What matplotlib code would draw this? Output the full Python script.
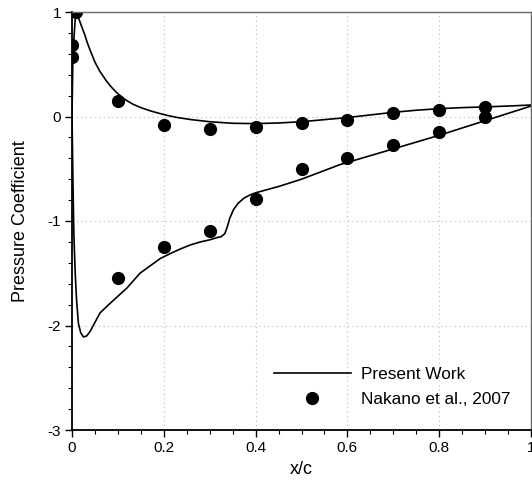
import matplotlib.pyplot as plt
from matplotlib.ticker import MultipleLocator

# present work, upper and lower surface
up_x = [0, 0.002, 0.008, 0.012, 0.017, 0.022, 0.028, 0.033, 0.039, 0.05, 0.061, 0.075, 0.086,
        0.097, 0.11, 0.122, 0.134, 0.15, 0.17, 0.19, 0.21, 0.23, 0.26, 0.3, 0.35, 0.4, 0.45,
        0.5, 0.55, 0.6, 0.65, 0.7, 0.75, 0.8, 0.85, 0.9, 0.95, 1.0]
up_cp = [0.0, 0.6, 1.0, 0.97, 0.91, 0.85, 0.78, 0.71, 0.64, 0.52, 0.43, 0.34, 0.28,
         0.23, 0.18, 0.145, 0.115, 0.085, 0.055, 0.03, 0.008, -0.01, -0.03, -0.05, -0.065,
         -0.068, -0.062, -0.05, -0.03, -0.01, 0.015, 0.04, 0.06, 0.075, 0.085, 0.092, 0.1, 0.11]
lo_x = [0, 0.002, 0.004, 0.007, 0.01, 0.014, 0.019, 0.025, 0.032, 0.039, 0.05, 0.061, 0.08,
        0.1, 0.12, 0.148, 0.17, 0.192, 0.215, 0.235, 0.257, 0.28, 0.3, 0.315, 0.325, 0.333,
        0.338, 0.344, 0.352, 0.362, 0.375, 0.388, 0.4, 0.45, 0.5, 0.584, 0.7, 0.8, 0.9, 1.0]
lo_cp = [0.0, -0.6, -1.12, -1.5, -1.76, -1.98, -2.07, -2.11, -2.1, -2.06, -1.97, -1.88, -1.8,
         -1.72, -1.64, -1.5, -1.43, -1.36, -1.31, -1.27, -1.23, -1.2, -1.18, -1.16, -1.15, -1.12,
         -1.06, -0.97, -0.89, -0.83, -0.78, -0.75, -0.73, -0.67, -0.60, -0.46, -0.31, -0.18, -0.04, 0.1]

# Nakano et al., 2007
exp_x = [0.0, 0.0, 0.008, 0.1, 0.2, 0.3, 0.4, 0.5, 0.6, 0.7, 0.8, 0.9,
         0.1, 0.2, 0.3, 0.4, 0.5, 0.6, 0.7, 0.8, 0.9]
exp_cp = [0.68, 0.57, 1.0, 0.15, -0.08, -0.12, -0.10, -0.06, -0.03, 0.03, 0.06, 0.09,
          -1.55, -1.25, -1.10, -0.79, -0.50, -0.40, -0.27, -0.15, 0.0]


def main():
    plt.rcParams['font.family'] = ['Liberation Sans', 'DejaVu Sans']
    fig = plt.figure(figsize=(5.32, 4.83), dpi=100)
    ax = fig.add_axes([72 / 532, 53 / 483, 459 / 532, 418 / 483])

    ax.plot(up_x, up_cp, color='black', lw=1.2, label='Present Work')
    ax.plot(lo_x, lo_cp, color='black', lw=1.2)
    ax.plot(exp_x, exp_cp, 'o', color='black', ms=8.5, label='Nakano et al., 2007')

    ax.set_xlim(0, 1)
    ax.set_ylim(-3, 1)
    ax.set_xticks([0, 0.2, 0.4, 0.6, 0.8, 1.0])
    ax.set_yticks([-3, -2, -1, 0, 1])
    ax.set_xticklabels(['0', '0.2', '0.4', '0.6', '0.8', '1'])
    ax.set_yticklabels(['-3', '-2', '-1', '0', '1'])
    ax.xaxis.set_minor_locator(MultipleLocator(0.05))
    ax.yaxis.set_minor_locator(MultipleLocator(0.2))
    ax.tick_params(which='major', length=5, width=1, labelsize=11, direction='out', pad=3)
    ax.tick_params(which='minor', length=3, width=0.8, direction='out')
    ax.grid(True, which='major', color='#bbbbbb', ls=(0, (1, 3)), lw=0.8)

    for s in ['left', 'bottom']:
        ax.spines[s].set_linewidth(1.3)
    for s in ['top', 'right']:
        ax.spines[s].set_color('#666666')
        ax.spines[s].set_linewidth(1.0)

    ax.set_xlabel('x/c', fontsize=13, labelpad=4)
    ax.set_ylabel('Pressure Coefficient', fontsize=13, labelpad=13)

    ax.legend(loc='lower right', frameon=False, fontsize=12.4, handlelength=4.5,
              bbox_to_anchor=(0.99, 0.018), labelspacing=0.6, handletextpad=0.6)

    fig.savefig('out.png', dpi=100)


if __name__ == '__main__':
    main()
